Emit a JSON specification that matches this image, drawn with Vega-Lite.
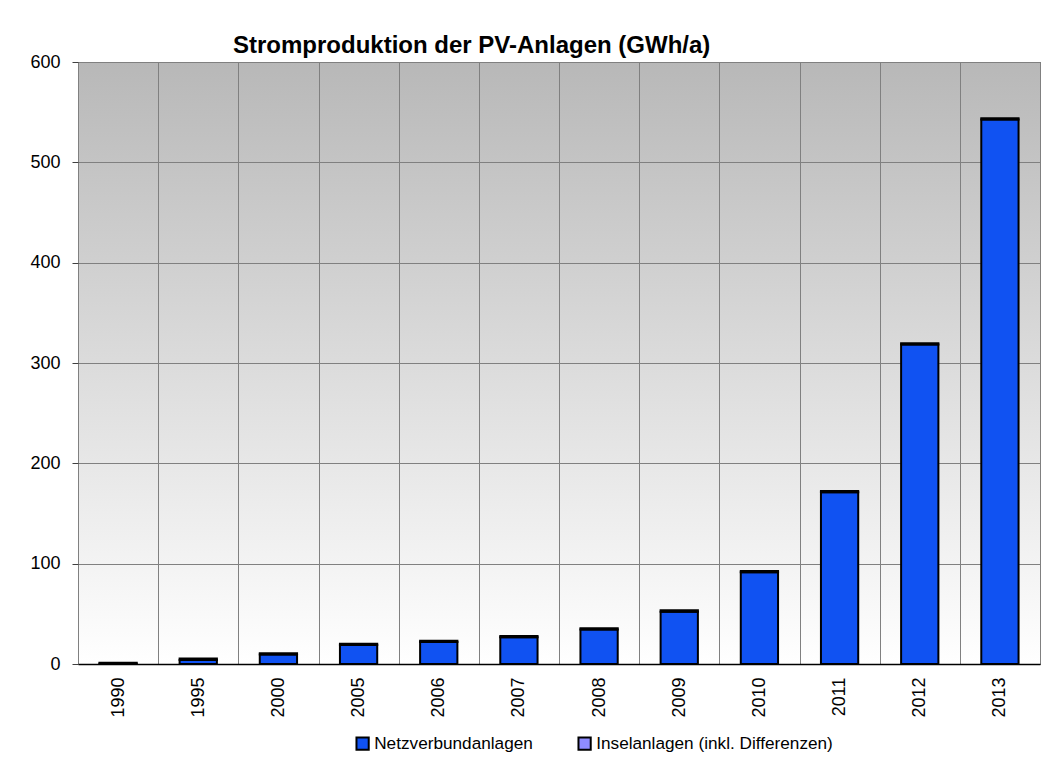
{
  "$schema": "https://vega.github.io/schema/vega-lite/v6.json",
  "autosize": "none",
  "width": 962,
  "height": 602,
  "padding": {"left": 78, "top": 62, "right": 13, "bottom": 97},
  "background": "#ffffff",
  "title": {
    "text": "Stromproduktion der PV-Anlagen (GWh/a)",
    "anchor": "start",
    "frame": "group",
    "dx": 155,
    "offset": -5,
    "font": "Liberation Sans",
    "fontSize": 24,
    "fontWeight": "bold",
    "color": "#000000"
  },
  "data": {
    "values": [
      {"Jahr": "1990", "Typ": "Netzverbundanlagen", "k": 1, "GWh": 0.3},
      {"Jahr": "1990", "Typ": "Inselanlagen (inkl. Differenzen)", "k": 2, "GWh": 0.9},
      {"Jahr": "1995", "Typ": "Netzverbundanlagen", "k": 1, "GWh": 4.1},
      {"Jahr": "1995", "Typ": "Inselanlagen (inkl. Differenzen)", "k": 2, "GWh": 1.3},
      {"Jahr": "2000", "Typ": "Netzverbundanlagen", "k": 1, "GWh": 9.4},
      {"Jahr": "2000", "Typ": "Inselanlagen (inkl. Differenzen)", "k": 2, "GWh": 1.3},
      {"Jahr": "2005", "Typ": "Netzverbundanlagen", "k": 1, "GWh": 18.9},
      {"Jahr": "2005", "Typ": "Inselanlagen (inkl. Differenzen)", "k": 2, "GWh": 1.3},
      {"Jahr": "2006", "Typ": "Netzverbundanlagen", "k": 1, "GWh": 21.9},
      {"Jahr": "2006", "Typ": "Inselanlagen (inkl. Differenzen)", "k": 2, "GWh": 1.3},
      {"Jahr": "2007", "Typ": "Netzverbundanlagen", "k": 1, "GWh": 26.7},
      {"Jahr": "2007", "Typ": "Inselanlagen (inkl. Differenzen)", "k": 2, "GWh": 1.3},
      {"Jahr": "2008", "Typ": "Netzverbundanlagen", "k": 1, "GWh": 34.3},
      {"Jahr": "2008", "Typ": "Inselanlagen (inkl. Differenzen)", "k": 2, "GWh": 1.3},
      {"Jahr": "2009", "Typ": "Netzverbundanlagen", "k": 1, "GWh": 52.2},
      {"Jahr": "2009", "Typ": "Inselanlagen (inkl. Differenzen)", "k": 2, "GWh": 1.3},
      {"Jahr": "2010", "Typ": "Netzverbundanlagen", "k": 1, "GWh": 91.4},
      {"Jahr": "2010", "Typ": "Inselanlagen (inkl. Differenzen)", "k": 2, "GWh": 1.3},
      {"Jahr": "2011", "Typ": "Netzverbundanlagen", "k": 1, "GWh": 171.2},
      {"Jahr": "2011", "Typ": "Inselanlagen (inkl. Differenzen)", "k": 2, "GWh": 1.3},
      {"Jahr": "2012", "Typ": "Netzverbundanlagen", "k": 1, "GWh": 318.4},
      {"Jahr": "2012", "Typ": "Inselanlagen (inkl. Differenzen)", "k": 2, "GWh": 1.3},
      {"Jahr": "2013", "Typ": "Netzverbundanlagen", "k": 1, "GWh": 542.7},
      {"Jahr": "2013", "Typ": "Inselanlagen (inkl. Differenzen)", "k": 2, "GWh": 1.3}
    ]
  },
  "mark": {"type": "bar", "stroke": "#000000", "strokeWidth": 2, "width": {"band": 0.465}},
  "encoding": {
    "x": {
      "field": "Jahr",
      "type": "nominal",
      "sort": null,
      "scale": {"paddingInner": 0, "paddingOuter": 0},
      "axis": {
        "title": null,
        "labelAngle": -90,
        "labelFont": "Liberation Sans",
        "labelFontSize": 18,
        "labelColor": "#000000",
        "labelPadding": 13,
        "ticks": false,
        "tickBand": "extent",
        "grid": true,
        "gridColor": "#808080",
        "gridWidth": 1,
        "gridOpacity": 1,
        "domain": true,
        "domainColor": "#000000",
        "domainWidth": 1.5
      }
    },
    "y": {
      "field": "GWh",
      "type": "quantitative",
      "stack": "zero",
      "scale": {"domain": [0, 600], "nice": false},
      "axis": {
        "title": null,
        "values": [0, 100, 200, 300, 400, 500, 600],
        "labelFont": "Liberation Sans",
        "labelFontSize": 18,
        "labelColor": "#000000",
        "labelPadding": 12,
        "tickSize": 6,
        "tickColor": "#404040",
        "grid": true,
        "gridColor": "#808080",
        "gridOpacity": 1,
        "domain": false
      }
    },
    "color": {
      "field": "Typ",
      "type": "nominal",
      "scale": {
        "domain": ["Netzverbundanlagen", "Inselanlagen (inkl. Differenzen)"],
        "range": ["#1052f2", "#8f8cff"]
      },
      "legend": {
        "title": null,
        "orient": "none",
        "legendX": 276,
        "legendY": 673,
        "direction": "horizontal",
        "symbolType": "square",
        "symbolSize": 150,
        "symbolStrokeColor": "#000000",
        "symbolStrokeWidth": 2,
        "symbolOpacity": 1,
        "labelFont": "Liberation Sans",
        "labelFontSize": 17.2,
        "labelColor": "#000000",
        "labelOffset": 3,
        "columnPadding": 41,
        "labelLimit": 400
      }
    },
    "order": {"field": "k", "type": "quantitative"}
  },
  "config": {
    "view": {
      "stroke": "#404040",
      "strokeWidth": 1,
      "fill": {
        "gradient": "linear",
        "x1": 0, "y1": 0, "x2": 0, "y2": 1,
        "stops": [
          {"offset": 0, "color": "#b8b8b8"},
          {"offset": 1, "color": "#ffffff"}
        ]
      }
    }
  }
}
